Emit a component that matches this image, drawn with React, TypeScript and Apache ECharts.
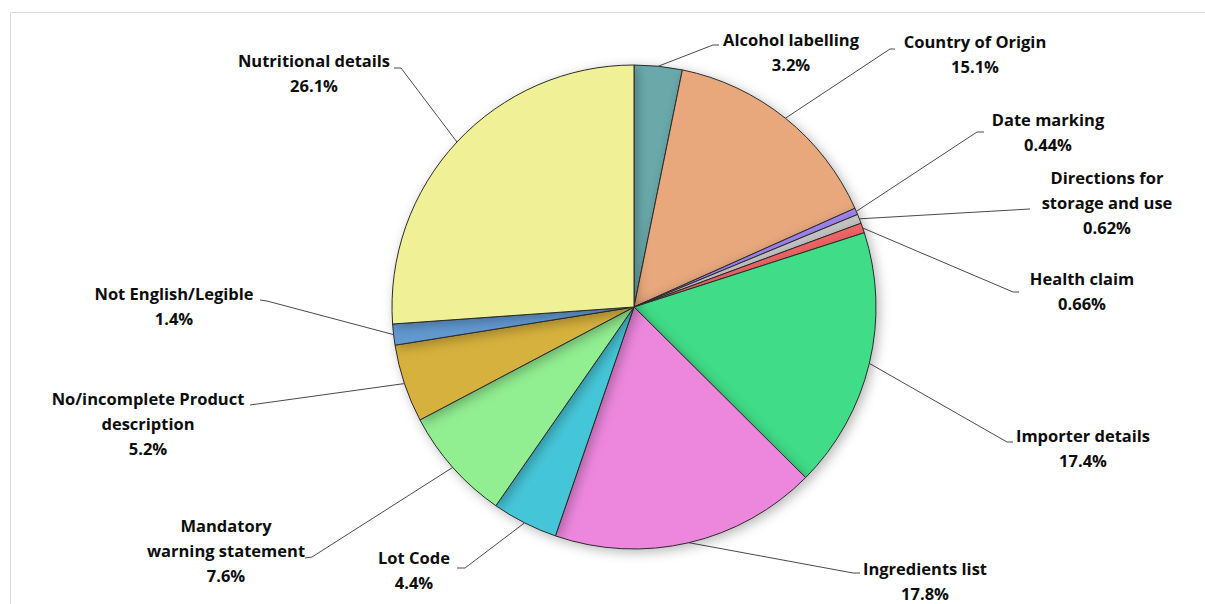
import React, { useEffect, useRef } from "react";
import * as echarts from "echarts";

const categories = [
  "Alcohol labelling",
  "Country of Origin",
  "Date marking",
  "Directions for storage and use",
  "Health claim",
  "Importer details",
  "Ingredients list",
  "Lot Code",
  "Mandatory warning statement",
  "No/incomplete Product description",
  "Not English/Legible",
  "Nutritional details",
];
const values = [3.2, 15.1, 0.44, 0.62, 0.66, 17.4, 17.8, 4.4, 7.6, 5.2, 1.4, 26.1];
const labelNames = [
  "Alcohol labelling",
  "Country of Origin",
  "Date marking",
  "Directions for\nstorage and use",
  "Health claim",
  "Importer details",
  "Ingredients list",
  "Lot Code",
  "Mandatory\nwarning statement",
  "No/incomplete Product\ndescription",
  "Not English/Legible",
  "Nutritional details",
];
const colors = [
  "#6aa9ab",
  "#e8a87c",
  "#a184f2",
  "#c4c4c4",
  "#ef6565",
  "#41dc87",
  "#ed87de",
  "#44c6d8",
  "#91ee91",
  "#d7b13d",
  "#6299d1",
  "#f0f097",
];

// label layout (page pixels): label centre, elbow point and end point of the leader line
const labelLayoutCfg = [
  { x: 791, y: 52, elbow: [713, 45], end: [719, 45] },
  { x: 975, y: 54, elbow: [890, 49], end: [895, 49] },
  { x: 1048, y: 132, elbow: [977, 132], end: [984, 132] },
  { x: 1107, y: 202, elbow: [1030, 209], end: [1030, 209] },
  { x: 1082, y: 291, elbow: [1013, 292], end: [1019, 292] },
  { x: 1083, y: 448, elbow: [1007, 442], end: [1013, 442] },
  { x: 925, y: 581, elbow: [853, 573], end: [860, 573] },
  { x: 414, y: 570, elbow: [465, 568], end: [457, 568] },
  { x: 226, y: 550, elbow: [312, 557], end: [305, 558] },
  { x: 148, y: 423, elbow: [250, 405], end: [250, 405] },
  { x: 174, y: 306, elbow: [267, 301], end: [260, 300] },
  { x: 314, y: 73, elbow: [401, 68], end: [394, 68] },
];

export default function App() {
  const ref = useRef<HTMLDivElement>(null);
  useEffect(() => {
    if (!ref.current) return;
    const chart = echarts.init(ref.current, null, { renderer: "svg" });
    const data = categories.map((name, i) => ({
      name,
      value: values[i],
      itemStyle: { color: colors[i] },
    }));
    chart.setOption({
      animation: false,
      backgroundColor: "#ffffff",
      graphic: [
        {
          type: "rect",
          shape: { x: 10.5, y: 12.5, width: 1400, height: 800 },
          style: { fill: "none", stroke: "#d9d9d9", lineWidth: 1 },
          silent: true,
        },
      ],
      series: [
        {
          type: "pie",
          center: [634, 307],
          radius: 242,
          startAngle: 90,
          clockwise: true,
          avoidLabelOverlap: false,
          data,
          itemStyle: {
            borderColor: "#2b2b2b",
            borderWidth: 1,
            shadowBlur: 12,
            shadowColor: "rgba(0,0,0,0.28)",
            shadowOffsetX: 3,
            shadowOffsetY: 3,
          },
          emphasis: { disabled: true },
          label: {
            show: true,
            position: "outside",
            formatter: (p: any) => `${labelNames[p.dataIndex]}\n${p.value}%`,
            fontFamily: "'Open Sans', sans-serif",
            fontWeight: "bold",
            fontSize: 16.5,
            lineHeight: 25,
            color: "#0d0d0d",
            align: "center",
          },
          labelLine: {
            show: true,
            length: 20,
            length2: 10,
            lineStyle: { color: "#4a4a4a", width: 1 },
          },
          labelLayout: (params: any) => {
            const cfg = labelLayoutCfg[params.dataIndex];
            const start = params.labelLinePoints
              ? params.labelLinePoints[0]
              : cfg.elbow;
            return {
              x: cfg.x,
              y: cfg.y,
              align: "center",
              verticalAlign: "middle",
              labelLinePoints: [start, cfg.elbow, cfg.end],
            };
          },
        },
      ],
    });
    return () => chart.dispose();
  }, []);
  return (
    <div
      ref={ref}
      style={{ position: "absolute", left: 0, top: 0, width: 1205, height: 604 }}
    />
  );
}
